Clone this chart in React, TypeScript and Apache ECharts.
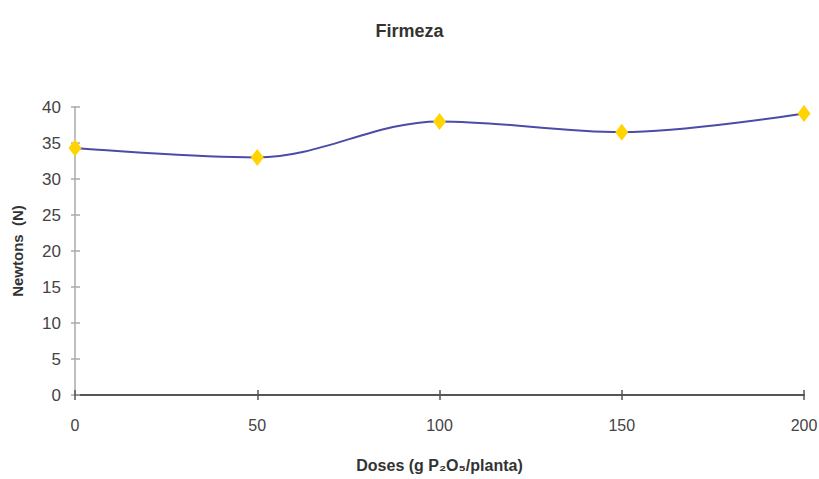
import React, { useEffect, useRef } from "react";
import * as echarts from "echarts";

const doses = [0, 50, 100, 150, 200];
const firmeza = [34.3, 33.0, 38.0, 36.5, 39.1];
const xTicks = [0, 50, 100, 150, 200];
const yTicks = [0, 5, 10, 15, 20, 25, 30, 35, 40];

const FONT = "'Liberation Sans', Arial, sans-serif";

export default function App() {
  const ref = useRef<HTMLDivElement>(null);

  useEffect(() => {
    if (!ref.current) return;
    const chart = echarts.init(ref.current, undefined, { renderer: "svg" });
    const xMin = xTicks[0];
    const xMax = xTicks[xTicks.length - 1];
    const yMin = yTicks[0];
    const yMax = yTicks[yTicks.length - 1];
    const xStep = xTicks[1] - xTicks[0];
    const yStep = yTicks[1] - yTicks[0];

    chart.setOption({
      animation: false,
      backgroundColor: "#ffffff",
      title: {
        text: "Firmeza",
        left: "center",
        top: 17,
        textStyle: { fontFamily: FONT, fontSize: 18, fontWeight: "bold", color: "#333" },
      },
      grid: { left: 75, right: 15, top: 107, bottom: 84, containLabel: false, outerBoundsMode: "none" },
      xAxis: [
        {
          type: "value",
          min: xMin,
          max: xMax,
          interval: xStep,
          axisLine: { show: true, lineStyle: { color: "#555", width: 2 } },
          axisTick: { show: true, length: 5, lineStyle: { color: "#555", width: 1.5 } },
          axisLabel: { margin: 22, fontFamily: FONT, fontSize: 16, color: "#444" },
          splitLine: { show: false },
          name: "Doses (g P₂O₅/planta)",
          nameLocation: "middle",
          nameGap: 62,
          nameTextStyle: { fontFamily: FONT, fontSize: 16, fontWeight: "bold", color: "#333" },
        },
        {
          type: "value",
          position: "bottom",
          min: xMin,
          max: xMax,
          interval: xStep,
          axisLine: { show: false },
          axisTick: { show: true, inside: true, length: 5, lineStyle: { color: "#555", width: 1.5 } },
          axisLabel: { show: false },
          splitLine: { show: false },
        },
      ],
      yAxis: [
        {
          type: "value",
          min: yMin,
          max: yMax,
          interval: yStep,
          axisLine: { show: true, lineStyle: { color: "#aaa", width: 1.5 } },
          axisTick: { show: true, length: 4, lineStyle: { color: "#aaa", width: 1.5 } },
          axisLabel: { margin: 14, fontFamily: FONT, fontSize: 17, color: "#444" },
          splitLine: { show: false },
          name: "Newtons  (N)",
          nameLocation: "middle",
          nameGap: 50,
          nameTextStyle: { fontFamily: FONT, fontSize: 15, fontWeight: "bold", color: "#333" },
        },
        {
          type: "value",
          position: "left",
          min: yMin,
          max: yMax,
          interval: yStep,
          axisLine: { show: false },
          axisTick: { show: true, inside: true, length: 5, lineStyle: { color: "#aaa", width: 1.5 } },
          axisLabel: { show: false },
          splitLine: { show: false },
        },
      ],
      series: [
        {
          type: "line",
          data: doses.map((d, i) => [d, firmeza[i]]),
          smooth: 0.35,
          lineStyle: { color: "#4b4ba8", width: 2 },
          symbol: "diamond",
          symbolSize: [13, 17],
          itemStyle: { color: "#ffd400", borderWidth: 0 },
          z: 5,
        },
      ],
    });

    return () => chart.dispose();
  }, []);

  return (
    <div
      ref={ref}
      style={{ position: "fixed", left: 0, top: 0, width: 819, height: 479, background: "#fff" }}
    />
  );
}
